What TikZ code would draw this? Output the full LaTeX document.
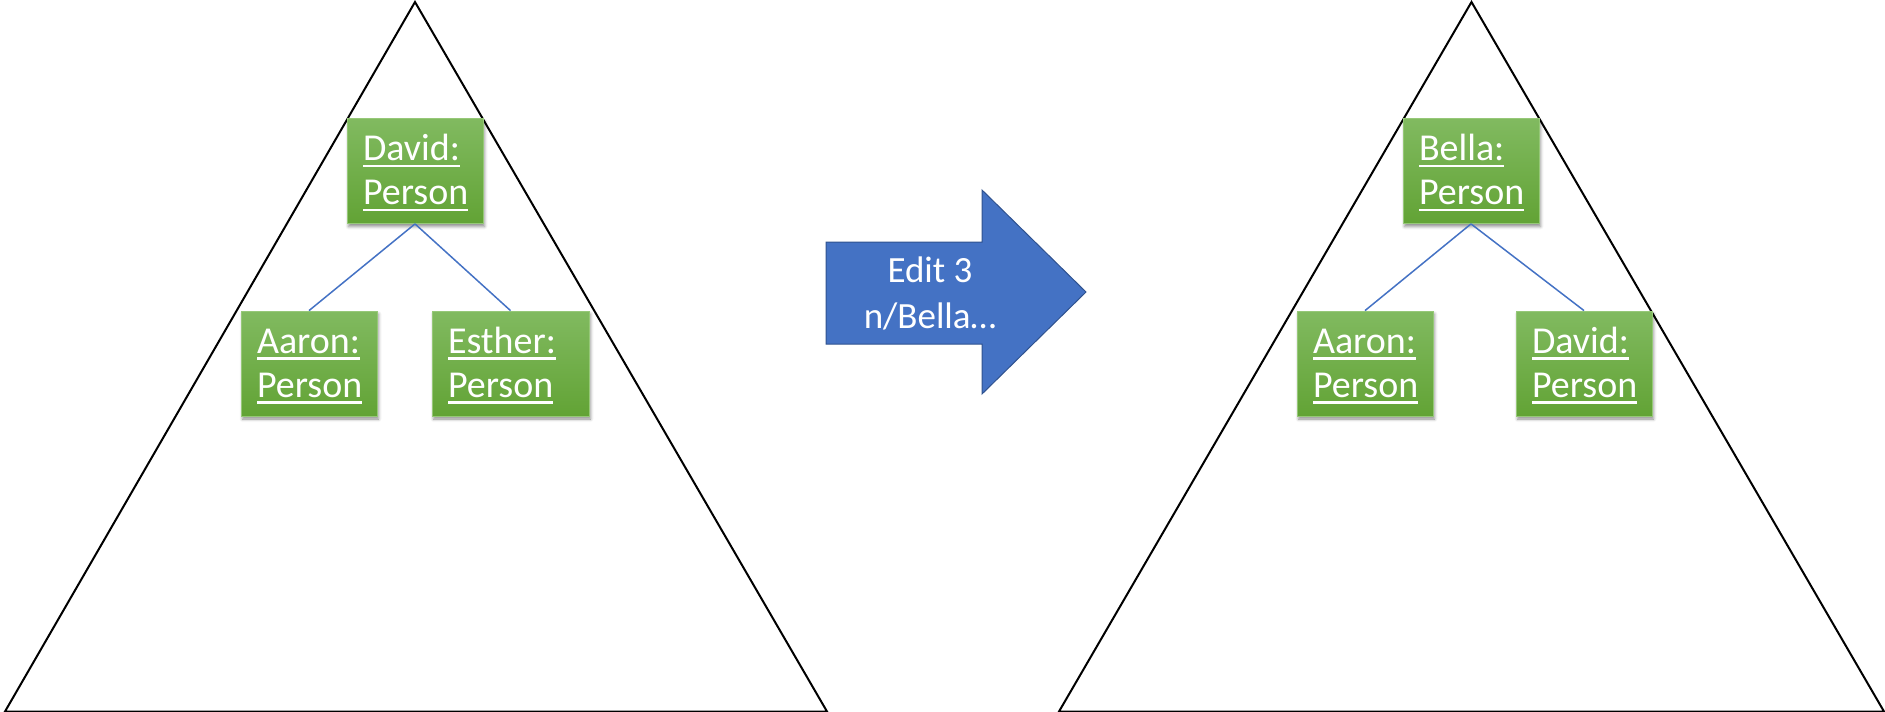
\documentclass[tikz,border=0pt]{standalone}
\usepackage{fontspec}
\setmainfont{Carlito}
\usetikzlibrary{shadows.blur}
\definecolor{accblue}{RGB}{68,114,196}
\definecolor{arrowedge}{RGB}{47,82,143}
\definecolor{gtop}{RGB}{129,186,96}
\definecolor{gbot}{RGB}{98,163,53}
\definecolor{gedge}{RGB}{150,200,120}
\newcommand\ulx[1]{\leavevmode\setbox0\hbox{#1}\rlap{\rule[-6.3pt]{\wd0}{2.3pt}}\box0}
\newcommand\twolines[2]{\rule{0pt}{30pt}\ulx{#1}\\\ulx{#2}}
\tikzset{
  tri/.style={draw=black, line width=2pt, line join=miter},
  pbox/.style={rectangle, draw=gedge, line width=0.8pt, top color=gtop, bottom color=gbot,
    text=white, font=\fontsize{38}{44}\selectfont, align=left, inner xsep=16pt,
    minimum height=105pt, text width=104pt,
    blur shadow={shadow xshift=1.5pt, shadow yshift=-3pt, shadow blur radius=3pt, shadow opacity=45}},
  link/.style={draw=accblue, line width=1.5pt},
  bigarrow/.style={fill=accblue, draw=arrowedge, line width=1pt, line join=miter},
  arrtext/.style={text=white, font=\fontsize{37}{46}\selectfont, align=center, inner sep=0pt}
}
\begin{document}
\begin{tikzpicture}[x=1pt, y=-1pt]
\useasboundingbox (0,0) rectangle (1885,712);
\begin{scope}
\clip (0,0) rectangle (1885,712);
% triangles
\draw[tri] (415,2) -- (5,711.5) -- (827,711.5) -- cycle;
\draw[tri] (1471.5,2) -- (1059,711.5) -- (1884,711.5) -- cycle;
\end{scope}
% left tree
\node[pbox] (davidL) at (415,171) {\twolines{David:}{Person}};
\node[pbox] (aaronL) at (309,363.5) {\twolines{Aaron:}{Person}};
\node[pbox, text width=125pt] (estherL) at (510.5,363.5) {\twolines{Esther:}{Person}};
\draw[link] (davidL.south) -- (aaronL.north);
\draw[link] (davidL.south) -- (estherL.north);
% right tree
\node[pbox] (bellaR) at (1471,171) {\twolines{Bella:}{Person}};
\node[pbox] (aaronR) at (1365,363.5) {\twolines{Aaron:}{Person}};
\node[pbox] (davidR) at (1584,363.5) {\twolines{David:}{Person}};
\draw[link] (bellaR.south) -- (aaronR.north);
\draw[link] (bellaR.south) -- (davidR.north);
% arrow
\draw[bigarrow] (826,242) -- (982,242) -- (982,190) -- (1086,292) -- (982,394) -- (982,344) -- (826,344) -- cycle;
\node[arrtext] (edit) at (930,293) {Edit 3\\n/Bella…};
\end{tikzpicture}
\end{document}
